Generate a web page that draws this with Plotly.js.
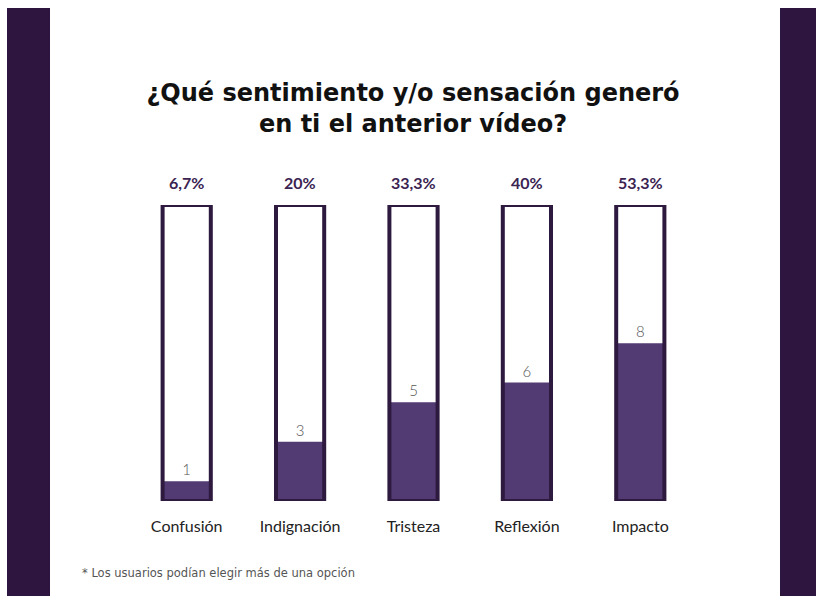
<!DOCTYPE html>
<html><head><meta charset="utf-8">
<script src="https://cdn.plot.ly/plotly-3.0.1.min.js"></script>
<style>html,body{margin:0;padding:0;background:#fff;}#chart{width:816px;height:598px;}</style>
</head><body><div id="chart"></div>
<script>
const categories = ['Confusión','Indignación','Tristeza','Reflexión','Impacto'];
const counts = [1, 3, 5, 6, 8];
const respondents = 15;
const pctLabels = ['6,7%','20%','33,3%','40%','53,3%'];
const titleText = '¿Qué sentimiento y/o sensación generó<br>en ti el anterior vídeo?';
const footnote = '* Los usuarios podían elegir más de una opción';

const W = 816, H = 598;
const M = {l:130, r:119, t:205, b:97};
const pw = W - M.l - M.r, ph = H - M.t - M.b;
const px = x => (x - M.l) / pw;
const py = y => (H - M.b - y) / ph;

const dark = '#2e1a3f';
const band = '#2d1540';
const fill = '#523a73';

const traces = [
  {type:'bar', x:categories, y:counts, width:0.425,
   marker:{color:fill, line:{width:0}},
   text:counts.map(String), textposition:'outside', cliponaxis:false,
   textfont:{family:'Lato, sans-serif', size:15, color:'#555555', weight:300},
   hoverinfo:'skip'},
  {type:'bar', x:categories, y:categories.map(()=>respondents), width:0.425,
   marker:{color:'rgba(0,0,0,0)', line:{color:dark, width:4}},
   hoverinfo:'skip'}
];

const layout = {
  width:W, height:H, margin:M, barmode:'overlay', showlegend:false,
  paper_bgcolor:'#fff', plot_bgcolor:'#fff',
  font:{family:'Lato, sans-serif'},
  title:{text:titleText, x:px(413), xanchor:'center', xref:'paper', y:1-101/H, yanchor:'top',
         font:{family:'DejaVu Sans, sans-serif', size:24, color:'#111', weight:700}},
  xaxis:{showgrid:false, zeroline:false, showline:false, ticks:'',
         tickfont:{family:'Lato, sans-serif', size:16, color:'#222'}, ticklabelstandoff:14, fixedrange:true},
  yaxis:{range:[0, respondents], visible:false, fixedrange:true},
  annotations: categories.map((c,i)=>({x:c, y:respondents, xref:'x', yref:'y', text:pctLabels[i],
      showarrow:false, yanchor:'bottom', yshift:11,
      font:{family:'Lato, sans-serif', size:16, color:'#3b2352', weight:700}})).concat([
    {xref:'paper', yref:'paper', x:px(80), y:py(573), xanchor:'left', yanchor:'middle', showarrow:false,
     text:footnote, font:{family:'DejaVu Sans, sans-serif', size:11.5, color:'#555'}}
  ]),
  shapes:[
    {type:'rect', xref:'paper', yref:'paper', x0:px(7), x1:px(50), y0:py(596), y1:py(8), fillcolor:band, line:{width:0}, layer:'below'},
    {type:'rect', xref:'paper', yref:'paper', x0:px(780), x1:px(816), y0:py(596), y1:py(8), fillcolor:band, line:{width:0}, layer:'below'}
  ]
};
Plotly.newPlot('chart', traces, layout, {displayModeBar:false, staticPlot:true});
</script></body></html>
